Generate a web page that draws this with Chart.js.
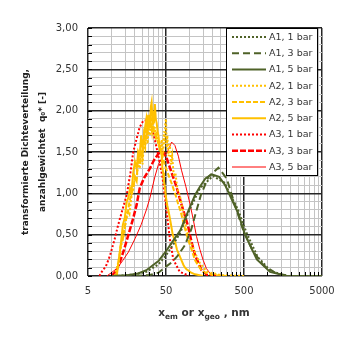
<!DOCTYPE html>
<html>
<head>
<meta charset="utf-8">
<script src="https://cdn.jsdelivr.net/npm/chart.js@4.4.0/dist/chart.umd.min.js"></script>
<style>
  html, body { margin: 0; padding: 0; background: #fff; }
</style>
</head>
<body>
<canvas id="chart" width="350" height="350"></canvas>
<script>
'use strict';

// particle size x (nm) and q0*
const xA1_1 = [12, 20, 28, 40, 50, 60, 76, 100, 136, 200, 280, 420, 540, 750, 1100, 1800, 5000];
const yA1_1 = [0, 0.02, 0.05, 0.14, 0.25, 0.36, 0.52, 0.8, 1.06, 1.21, 1.13, 0.8, 0.52, 0.23, 0.06, 0, 0];
const xA1_3 = [20, 30, 40, 51, 60, 70, 87, 105, 122, 140, 175, 235, 300, 365, 490, 650, 890, 1300, 2000, 5000];
const yA1_3 = [0, 0.01, 0.04, 0.12, 0.17, 0.24, 0.37, 0.56, 0.78, 0.98, 1.2, 1.31, 1.18, 0.92, 0.55, 0.3, 0.13, 0.03, 0, 0];
const xA1_5 = [10, 16, 22, 28, 40, 50, 60, 76, 100, 118, 136, 160, 193, 240, 286, 420, 515, 730, 1080, 1770, 5000];
const yA1_5 = [0, 0.01, 0.03, 0.07, 0.18, 0.3, 0.41, 0.55, 0.82, 0.98, 1.08, 1.18, 1.23, 1.2, 1.1, 0.76, 0.5, 0.2, 0.05, 0, 0];

const xA2_1 = [11, 12.5, 13.5, 14.5, 16, 17, 18, 19, 20, 21, 22, 23, 24, 25, 26, 27, 28, 29, 30, 31, 32, 33, 34, 35, 36, 37, 38, 40, 42, 44, 46, 47, 48, 49, 50, 51, 52, 54, 56, 58, 60, 63, 66, 70, 75, 80, 86, 92, 100, 110, 122, 137, 155, 170, 250, 500];
const yA2_1 = [0, 0.2, 0.4, 0.5, 0.8, 0.75, 0.95, 1.05, 1.2, 1.15, 1.4, 1.3, 1.5, 1.35, 1.6, 1.55, 1.75, 1.6, 1.8, 1.7, 1.85, 1.75, 1.9, 1.7, 1.8, 1.65, 1.75, 1.6, 1.5, 1.65, 1.45, 1.75, 1.6, 1.85, 1.9, 1.55, 1.7, 1.45, 1.6, 1.35, 1.45, 1.2, 1.25, 1.05, 0.98, 0.85, 0.7, 0.55, 0.45, 0.35, 0.25, 0.15, 0.09, 0.05, 0.01, 0];
const xA2_3 = [11.5, 12.5, 13, 14, 14.5, 15.5, 16, 17, 18, 19, 20, 21, 22, 23, 24, 25, 26, 27, 28, 29, 30, 31, 32, 33, 34, 35, 37, 40, 43, 45, 48, 50, 55, 60, 64, 68, 72, 76, 81, 86, 96, 108, 118, 135, 150, 200, 300];
const yA2_3 = [0, 0.2, 0.35, 0.45, 0.55, 0.7, 0.72, 0.9, 1.0, 1.05, 1.2, 1.15, 1.45, 1.35, 1.5, 1.45, 1.7, 1.6, 1.8, 1.7, 1.95, 1.8, 1.92, 1.75, 1.9, 1.75, 1.7, 1.6, 1.5, 1.45, 1.35, 1.3, 1.2, 1.1, 1.02, 0.95, 0.86, 0.8, 0.7, 0.6, 0.44, 0.3, 0.19, 0.1, 0.05, 0.01, 0];
const xA2_5 = [11.7, 12.3, 12.8, 13.4, 14, 14.8, 15.7, 16.5, 17.3, 18, 19, 20, 21, 22, 23, 24, 25, 26, 27, 28, 29, 29.6, 30.5, 31, 32, 32.7, 33.5, 34, 35, 36, 37, 38, 39, 40, 41, 42, 43, 44, 45, 46, 47, 48, 50, 52, 54, 56, 58, 61, 63, 66, 69, 72, 75, 79, 84, 88, 92, 96, 105, 118, 150];
const yA2_5 = [0, 0.18, 0.29, 0.45, 0.62, 0.7, 0.9, 0.95, 1.06, 1.0, 1.25, 1.38, 1.3, 1.5, 1.45, 1.7, 1.55, 1.65, 1.8, 1.9, 1.75, 1.95, 1.8, 1.85, 2.05, 2.1, 1.9, 2.0, 1.85, 2.08, 1.9, 1.85, 1.75, 1.7, 1.6, 1.55, 1.5, 1.46, 1.3, 1.25, 1.15, 1.1, 0.95, 0.85, 0.78, 0.7, 0.62, 0.5, 0.46, 0.4, 0.32, 0.28, 0.24, 0.19, 0.13, 0.1, 0.08, 0.07, 0.04, 0.02, 0];

const xA3_1 = [7, 7.5, 8.5, 9.6, 11, 12.2, 14, 15.7, 17.5, 19, 21, 23, 25.6, 28, 31, 35, 40, 45, 50, 56, 62, 75, 100];
const yA3_1 = [0, 0.05, 0.12, 0.25, 0.45, 0.62, 0.82, 0.98, 1.25, 1.5, 1.66, 1.8, 1.88, 1.88, 1.85, 1.7, 1.45, 1.2, 0.85, 0.45, 0.2, 0.05, 0];
const xA3_3 = [10, 11.5, 12.8, 14.5, 16.5, 19, 21, 23, 26, 31, 35, 40, 44, 50, 59, 67, 76, 86, 96, 107, 118, 143, 170, 250];
const yA3_3 = [0, 0.06, 0.17, 0.32, 0.5, 0.7, 0.86, 1.06, 1.18, 1.3, 1.4, 1.48, 1.5, 1.45, 1.25, 1.1, 0.92, 0.75, 0.6, 0.4, 0.25, 0.07, 0.01, 0];
const xA3_5 = [8.7, 10, 12, 14, 16.5, 20, 24, 28, 31, 36, 40, 44, 48, 51, 55, 59, 65, 72, 79, 90, 101, 112, 123, 136, 150, 165, 184, 225];
const yA3_5 = [0, 0.04, 0.1, 0.19, 0.29, 0.45, 0.62, 0.8, 0.94, 1.2, 1.35, 1.42, 1.5, 1.48, 1.55, 1.62, 1.58, 1.45, 1.28, 1.08, 0.88, 0.68, 0.48, 0.32, 0.19, 0.09, 0.03, 0];

const xMajorTicks = [5, 50, 500, 5000];
const xMinorTicks = [10, 15, 20, 25, 30, 35, 40, 45, 100, 150, 200, 250, 300, 350, 400, 450,
                     1000, 1500, 2000, 2500, 3000, 3500, 4000, 4500];
const yMajorTicks = [0, 0.5, 1, 1.5, 2, 2.5, 3];
const yMinorStep = 0.1;

const olive = '#4f6228';
const gold = '#ffc000';
const red = '#ff0000';

function pts(xs, ys) {
  return xs.map((x, i) => ({ x: x, y: ys[i] }));
}

function series(label, xs, ys, color, dash, width) {
  return {
    label: label,
    data: pts(xs, ys),
    borderColor: color,
    backgroundColor: color,
    borderDash: dash,
    borderWidth: width,
    pointRadius: 0,
    showLine: true,
    fill: false,
    tension: 0
  };
}

const dot = [2, 2];

const datasets = [
  series('A1, 1 bar', xA1_1, yA1_1, olive, dot, 2),
  series('A1, 3 bar', xA1_3, yA1_3, olive, [7, 4], 2),
  series('A1, 5 bar', xA1_5, yA1_5, olive, [], 2),
  series('A2, 1 bar', xA2_1, yA2_1, gold, dot, 2),
  series('A2, 3 bar', xA2_3, yA2_3, gold, [5, 2], 2),
  series('A2, 5 bar', xA2_5, yA2_5, gold, [], 2),
  series('A3, 1 bar', xA3_1, yA3_1, red, dot, 2),
  series('A3, 3 bar', xA3_3, yA3_3, red, [6, 2], 2.5),
  series('A3, 5 bar', xA3_5, yA3_5, red, [], 1)
];

const xAllTicks = xMajorTicks.concat(xMinorTicks).sort((a, b) => a - b);
const yAllTicks = [];
for (let i = 0; i <= Math.round(3 / yMinorStep); i++) yAllTicks.push(Math.round(i * yMinorStep * 10) / 10);

const isMajorY = v => yMajorTicks.some(m => Math.abs(m - v) < 1e-6);
const isMajorX = v => xMajorTicks.includes(v);
const fmt = v => v.toFixed(2).replace('.', ',');

Chart.defaults.font.family = "'DejaVu Sans', Verdana, sans-serif";
Chart.defaults.color = '#333';

// legend box inside the plot, drawn from the datasets
const boxLegend = {
  id: 'boxLegend',
  afterDraw(chart) {
    const ctx = chart.ctx;
    const x0 = 226, y0 = 28, w = 92, h = 148;
    ctx.save();
    ctx.fillStyle = '#fff';
    ctx.fillRect(x0, y0, w, h);
    ctx.strokeStyle = '#000';
    ctx.lineWidth = 1;
    ctx.strokeRect(x0 + 0.5, y0 + 0.5, w - 1, h - 1);
    ctx.font = "9.5px 'DejaVu Sans'";
    ctx.textBaseline = 'middle';
    chart.data.datasets.forEach((ds, i) => {
      const y = y0 + 9 + i * 16.25;
      ctx.beginPath();
      ctx.strokeStyle = ds.borderColor;
      ctx.lineWidth = ds.borderWidth;
      ctx.setLineDash(ds.borderDash);
      ctx.moveTo(232, y);
      ctx.lineTo(266, y);
      ctx.stroke();
      ctx.setLineDash([]);
      ctx.fillStyle = '#333';
      ctx.fillText(ds.label, 269, y + 0.5);
    });
    ctx.restore();
  }
};

// inner tick marks and x axis title with subscripts
const axisExtras = {
  id: 'axisExtras',
  afterDraw(chart) {
    const ctx = chart.ctx;
    const xs = chart.scales.x, ys = chart.scales.y;
    const a = chart.chartArea;
    ctx.save();
    ctx.strokeStyle = '#000';
    ctx.lineWidth = 1;
    ctx.beginPath();
    yAllTicks.forEach(v => {
      const py = Math.round(ys.getPixelForValue(v)) + 0.5;
      ctx.moveTo(a.left, py);
      ctx.lineTo(a.left + 4, py);
    });
    xMinorTicks.forEach(v => {
      const px = Math.round(xs.getPixelForValue(v)) + 0.5;
      ctx.moveTo(px, a.bottom);
      ctx.lineTo(px, a.bottom - 4);
    });
    ctx.stroke();

    const parts = [
      ['x', false], ['em', true], [' or x', false], ['geo', true], [' , nm', false]
    ];
    const big = "bold 10.5px 'DejaVu Sans'";
    const small = "bold 7.5px 'DejaVu Sans'";
    let total = 0;
    parts.forEach(p => { ctx.font = p[1] ? small : big; total += ctx.measureText(p[0]).width; });
    let cx = 204 - total / 2;
    const base = 316;
    ctx.fillStyle = '#333';
    ctx.textBaseline = 'alphabetic';
    parts.forEach(p => {
      ctx.font = p[1] ? small : big;
      ctx.fillText(p[0], cx, p[1] ? base + 3 : base);
      cx += ctx.measureText(p[0]).width;
    });
    ctx.restore();
  }
};

new Chart(document.getElementById('chart'), {
  type: 'scatter',
  data: { datasets: datasets },
  options: {
    responsive: false,
    animation: false,
    layout: { padding: { top: 28, right: 28, left: 0, bottom: 0 } },
    plugins: { legend: { display: false }, tooltip: { enabled: false } },
    scales: {
      x: {
        type: 'logarithmic',
        min: 5,
        max: 5000,
        afterBuildTicks: s => { s.ticks = xAllTicks.map(v => ({ value: v })); },
        afterFit: s => { s.height = 74; },
        ticks: {
          autoSkip: false,
          maxRotation: 0,
          padding: 9,
          font: { size: 10 },
          callback: v => isMajorX(v) ? String(v) : ''
        },
        grid: {
          drawTicks: false,
          color: c => isMajorX(c.tick.value) ? '#262626' : '#c4c4c4',
          lineWidth: c => isMajorX(c.tick.value) ? 1.5 : 1
        },
        border: { display: false }
      },
      y: {
        min: 0,
        max: 3,
        afterBuildTicks: s => { s.ticks = yAllTicks.map(v => ({ value: v })); },
        afterFit: s => { s.width = 88; },
        ticks: {
          autoSkip: false,
          padding: 10,
          font: { size: 10 },
          callback: v => isMajorY(v) ? fmt(v) : ''
        },
        grid: {
          drawTicks: false,
          color: c => isMajorY(c.tick.value) ? '#262626' : '#c4c4c4',
          lineWidth: c => isMajorY(c.tick.value) ? 1.5 : 1
        },
        border: { display: false },
        title: {
          display: true,
          text: ['transformierte Dichteverteilung,', 'anzahlgewichtet  q\u2080* [-]'],
          font: { size: 9, weight: 'bold', lineHeight: 1.8 },
          color: '#222',
          padding: { top: 18, bottom: 0 }
        }
      }
    }
  },
  plugins: [boxLegend, axisExtras]
});
</script>
</body>
</html>
